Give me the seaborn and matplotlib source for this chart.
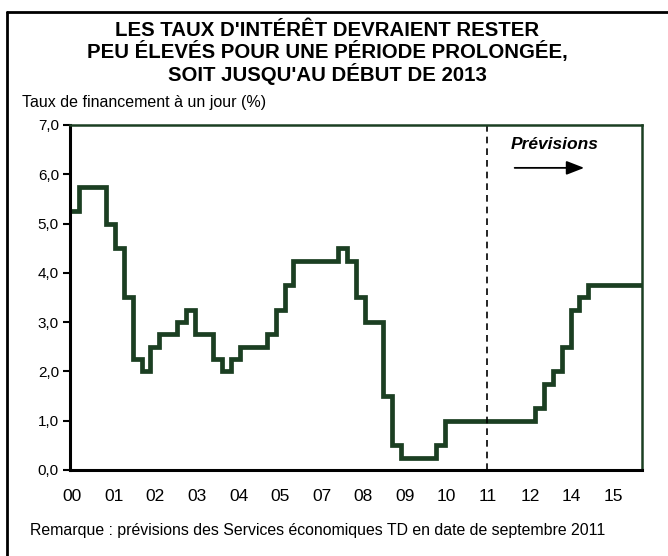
import numpy as np
import pandas as pd
import seaborn as sns
import matplotlib.pyplot as plt
from matplotlib.lines import Line2D
from matplotlib.ticker import FuncFormatter

# Overnight rate, quarterly, 2000Q1 -> 2015Q4 (forecast from 2011Q3)
start_year = 2000
rates = [5.25, 5.75, 5.75, 5.75,
         5.0, 4.5, 3.5, 2.25,
         2.0, 2.5, 2.75, 2.75,
         3.0, 3.25, 2.75, 2.75,
         2.25, 2.0, 2.25, 2.5,
         2.5, 2.5, 2.75, 3.25,
         3.75, 4.25, 4.25, 4.25,
         4.25, 4.25, 4.5, 4.25,
         3.5, 3.0, 3.0, 1.5,
         0.5, 0.25, 0.25, 0.25,
         0.25, 0.5, 1.0, 1.0,
         1.0, 1.0, 1.0, 1.0,
         1.0, 1.0, 1.0, 1.0,
         1.25, 1.75, 2.0, 2.5,
         3.25, 3.5, 3.75, 3.75,
         3.75, 3.75, 3.75, 3.75]
year_labels = ["00", "01", "02", "03", "04", "05", "07",
               "08", "09", "10", "11", "12", "14", "15"]
forecast_start = 2011.66

green = "#1b3f22"

# steps-post needs one extra point to close the last quarter
x = start_year + np.arange(len(rates) + 1) / 4
df = pd.DataFrame({"date": x, "taux": rates + [rates[-1]]})

sns.set_theme(style="white")
plt.rcParams["font.family"] = ["Liberation Sans", "DejaVu Sans"]
plt.rcParams["text.color"] = "black"
plt.rcParams["xtick.color"] = "black"
plt.rcParams["ytick.color"] = "black"

fig = plt.figure(figsize=(6.68, 5.56), dpi=100)
ax = fig.add_axes([0.1048, 0.1547, 0.8563, 0.6205])

sns.lineplot(data=df, x="date", y="taux", ax=ax, color=green, linewidth=3.4,
             drawstyle="steps-post", solid_joinstyle="miter")

ax.axvline(forecast_start, color="black", linestyle=(0, (4, 3)), linewidth=1.2)

ax.set_xlim(2000, 2016)
ax.set_ylim(0, 7)
ax.set_yticks(np.arange(0, 8, 1))
ax.yaxis.set_major_formatter(FuncFormatter(lambda v, p: f"{v:.1f}".replace(".", ",")))
ax.set_xticks(np.linspace(2000.06, 2015.19, len(year_labels)))
ax.set_xticklabels(year_labels)
ax.tick_params(axis="x", length=0, pad=14, labelsize=12.5)
ax.tick_params(axis="y", left=True, length=5, width=1.5, direction="out",
               pad=3, labelsize=11)
ax.set_xlabel("")
ax.set_ylabel("")

for side in ["left", "bottom"]:
    ax.spines[side].set_color("black")
    ax.spines[side].set_linewidth(2.2)
for side in ["top", "right"]:
    ax.spines[side].set_color(green)
    ax.spines[side].set_linewidth(1.8)

# forecast marker
ax.text(2013.56, 6.6, "Prévisions", ha="center", va="center",
        fontsize=12.5, fontweight="bold", fontstyle="italic")
ax.annotate("", xy=(2014.46, 6.13), xytext=(2012.36, 6.13),
            arrowprops=dict(arrowstyle="-|>,head_length=0.9,head_width=0.35",
                            color="black", lw=1.3))

fig.text(0.49, 1 - 53 / 556, "LES TAUX D'INTÉRÊT DEVRAIENT RESTER\n"
         "PEU ÉLEVÉS POUR UNE PÉRIODE PROLONGÉE,\nSOIT JUSQU'AU DÉBUT DE 2013",
         ha="center", va="center", fontsize=14.7, fontweight="bold",
         linespacing=1.08)
fig.text(22 / 668, 1 - 102 / 556, "Taux de financement à un jour (%)",
         ha="left", va="center", fontsize=11.5)
fig.text(30 / 668, 1 - 531 / 556,
         "Remarque : prévisions des Services économiques TD en date de septembre 2011",
         ha="left", va="center", fontsize=11.4)

# outer frame (left and top edges)
fig.add_artist(Line2D([7 / 668, 7 / 668], [0, 1 - 12 / 556],
                      transform=fig.transFigure, color="black", linewidth=2))
fig.add_artist(Line2D([7 / 668, 1], [1 - 12 / 556, 1 - 12 / 556],
                      transform=fig.transFigure, color="black", linewidth=2))

fig.savefig("out.png", dpi=100)
